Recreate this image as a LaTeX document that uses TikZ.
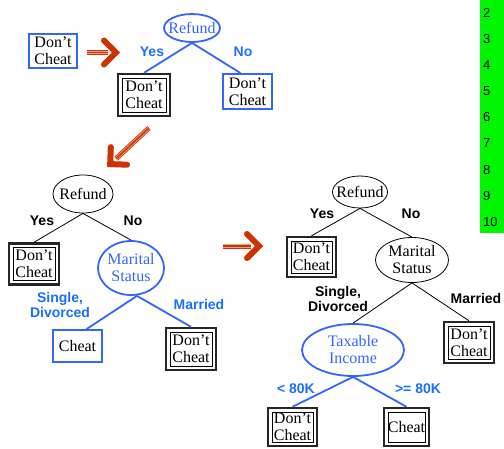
\documentclass[tikz,border=0pt]{standalone}
\usepackage{fontspec}
\setmainfont{Liberation Serif}
\newfontfamily\labfont{Liberation Sans}
\usetikzlibrary{shapes.geometric}
\definecolor{bl}{RGB}{51,102,255}
\definecolor{lbl}{RGB}{25,110,255}
\definecolor{ared}{RGB}{204,51,0}
\definecolor{grn}{RGB}{0,245,0}
\tikzset{
  txt/.style={font=\fontsize{16}{17}\selectfont, align=center, inner sep=0pt},
  bbox/.style={txt, draw=bl, line width=1.8pt},
  dbox/.style={txt, draw=black!85, line width=2.4pt,
    path picture={\draw[black, line width=0.9pt]
      ([shift={(4pt,-4pt)}]path picture bounding box.north west) rectangle
      ([shift={(-4pt,4pt)}]path picture bounding box.south east);}},
  ell/.style={txt, ellipse, inner xsep=-9pt, draw=black, line width=0.8pt},
  bell/.style={txt, ellipse, inner xsep=-9pt, draw=bl, line width=1.8pt, text=bl},
  lab/.style={font=\labfont\bfseries\fontsize{14}{15.5}\selectfont, inner sep=0pt, align=center},
  num/.style={font=\labfont\fontsize{13}{14}\selectfont, inner sep=0pt, anchor=west},
  blink/.style={draw=bl, line width=1.8pt},
  klink/.style={draw=black, line width=0.8pt},
  sarrow/.pic={
    \draw[ared, line width=5pt] (0,0) -- (#1-12,0);
    \draw[white!55!ared, line width=0.7pt] (0,1.3) -- (#1-12,1.3) (0,-1.3) -- (#1-12,-1.3);
    \draw[ared, line width=6pt, line cap=round, line join=miter]
      (#1-16,12) -- (#1-4,0) -- (#1-16,-12);
  }
}
\begin{document}
\begin{tikzpicture}[x=1pt,y=-1pt]
\useasboundingbox (0,0) rectangle (504,448);

% green strip
\fill[grn] (480,0) rectangle (504,233);
\foreach \n [count=\i] in {2,...,10}
  \node[num] (n\n) at (483,{13+26.1*(\i-1)}) {\n};

% arrows
\coordinate (a1) at (87,52.5);
\pic at (a1) {sarrow=33};
\coordinate (a2) at (149,128);
\pic[rotate=222.9] at (a2) {sarrow=57};
\coordinate (a3) at (223,246);
\pic at (a3) {sarrow=40};

% top tree
\node[bbox, minimum width=48pt, minimum height=34pt] (t0) at (53,51) {Don’t\\Cheat};
\node[bell, minimum width=56pt, minimum height=28pt] (tR) at (192,28) {Refund};
\node[dbox, minimum width=52pt, minimum height=42pt] (tY) at (144,95) {Don’t\\Cheat};
\node[bbox, minimum width=49pt, minimum height=35pt] (tN) at (247.5,91.5) {Don’t\\Cheat};
\draw[blink] (tR.south) -- (tY.north);
\draw[blink] (tR.south) -- ([xshift=-7pt]tN.north);
\node[lab, text=lbl] (tYes) at (152,52) {Yes};
\node[lab, text=lbl] (tNo) at (243,52) {No};

% middle-left tree
\node[ell, minimum width=60pt, minimum height=38pt] (mR) at (83,194) {Refund};
\node[dbox, minimum width=50pt, minimum height=41pt] (mY) at (34,264) {Don’t\\Cheat};
\node[bell, minimum width=66pt, minimum height=54pt] (mM) at (131,268) {Marital\\Status};
\draw[klink] (mR.south) -- (mY.north);
\draw[klink] (mR.south) -- (mM.north);
\node[lab] (mYes) at (42,221) {Yes};
\node[lab] (mNo) at (133,221) {No};
\node[bbox, minimum width=49pt, minimum height=32pt] (mC) at (77.5,346) {Cheat};
\node[dbox, minimum width=50pt, minimum height=42pt] (mD) at (191,349) {Don’t\\Cheat};
\draw[blink] ([xshift=6pt]mM.south) -- ([xshift=9pt]mC.north);
\draw[blink] ([xshift=6pt]mM.south) -- (mD.north);
\node[lab, text=lbl] (mSD) at (60,305) {Single,\\Divorced};
\node[lab, text=lbl] (mMa) at (199,304) {Married};

% right tree
\node[ell, minimum width=55pt, minimum height=32pt] (rR) at (360,192) {Refund};
\node[dbox, minimum width=49pt, minimum height=40pt] (rY) at (311.5,257) {Don’t\\Cheat};
\node[ell, minimum width=73pt, minimum height=45pt] (rM) at (412,260) {Marital\\Status};
\draw[klink] (rR.south) -- (rY.north);
\draw[klink] (rR.south) -- (rM.north);
\node[lab] (rYes) at (322,214) {Yes};
\node[lab] (rNo) at (411,214) {No};
\node[bell, minimum width=102pt, minimum height=52pt] (rT) at (353,350) {Taxable\\Income};
\node[dbox, minimum width=50pt, minimum height=41pt] (rD) at (469,342.5) {Don’t\\Cheat};
\draw[klink] (rM.south) -- (rT.north);
\draw[klink] (rM.south) -- (rD.north);
\node[lab] (rSD) at (338,299) {Single,\\Divorced};
\node[lab] (rMa) at (476,298) {Married};
\node[dbox, minimum width=49pt, minimum height=38pt] (rL2) at (292.5,427) {Don’t\\Cheat};
\node[dbox, minimum width=45pt, minimum height=38pt] (rC) at (406.5,427) {Cheat};
\draw[blink] (rT.south) -- (rL2.north);
\draw[blink] (rT.south) -- (rC.north);
\node[lab, text=lbl] (rLo) at (296,389) {< 80K};
\node[lab, text=lbl] (rHi) at (418,389) {>= 80K};
\end{tikzpicture}
\end{document}
